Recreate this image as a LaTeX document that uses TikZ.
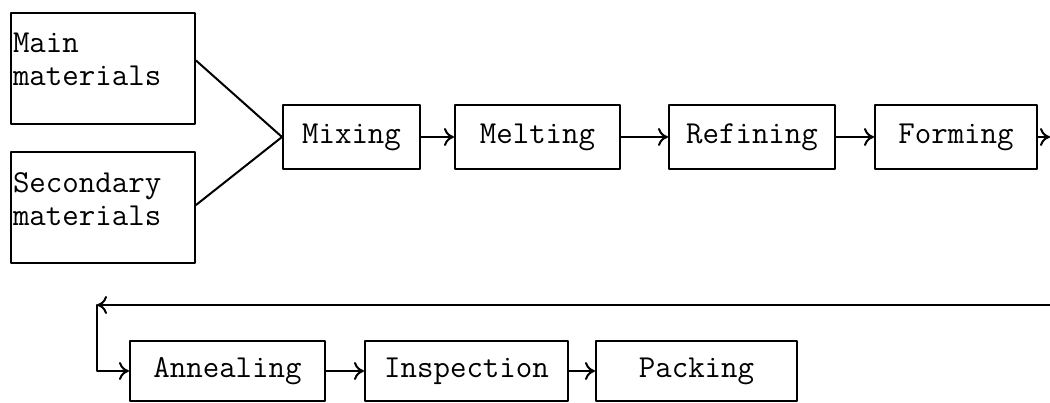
\documentclass[tikz,border=0pt]{standalone}
\usetikzlibrary{arrows.meta}

\tikzset{
  stage/.style={draw, rectangle, minimum height=64pt, inner sep=0pt,
    font=\ttfamily\fontsize{32}{33}\selectfont},
  matbox/.style={draw, rectangle, minimum width=184pt, minimum height=111pt, inner sep=0pt},
  mattext/.style={anchor=north west, align=left, inner xsep=2pt, inner ysep=20pt,
    font=\ttfamily\fontsize{32}{33}\selectfont}
}

\begin{document}
\begin{tikzpicture}[line width=2pt, line cap=round, line join=round,
    >={Computer Modern Rightarrow[length=10pt,width=18pt]}, x=1pt, y=-1pt]
  \useasboundingbox (0,0) rectangle (1050,403);
  % raw materials
  \node[matbox, label={[mattext]north west:{Main\\materials}}] (main) at (103,68.5) {};
  \node[matbox, label={[mattext]north west:{Secondary\\materials}}] (second) at (103,208) {};
  % first row
  \node[stage, minimum width=137pt] (mixing) at (351.5,137) {Mixing};
  \node[stage, minimum width=165pt] (melting) at (537.5,137) {Melting};
  \node[stage, minimum width=166pt] (refining) at (752,137) {Refining};
  \node[stage, minimum width=162pt] (forming) at (956,137) {Forming};
  % second row
  \node[stage, minimum width=195pt, minimum height=60pt] (annealing) at (227.5,371) {Annealing};
  \node[stage, minimum width=203pt, minimum height=60pt] (inspection) at (466.5,371) {Inspection};
  \node[stage, minimum width=201pt, minimum height=60pt] (packing) at (696.5,371) {Packing};
  \coordinate (out) at (1050,137);
  \coordinate (backR) at (1050,305);
  \coordinate (backL) at (97,305);

  \draw ([yshift=8pt]main.east) -- (mixing.west);
  \draw ([yshift=3pt]second.east) -- (mixing.west);
  \draw[->] (mixing) -- (melting);
  \draw[->] (melting) -- (refining);
  \draw[->] (refining) -- (forming);
  \draw[->] (forming) -- (out);
  \draw[->] (backR) -- (backL);
  \draw[->] (backL) |- (annealing.west);
  \draw[->] (annealing) -- (inspection);
  \draw[->] (inspection) -- (packing);
\end{tikzpicture}
\end{document}
